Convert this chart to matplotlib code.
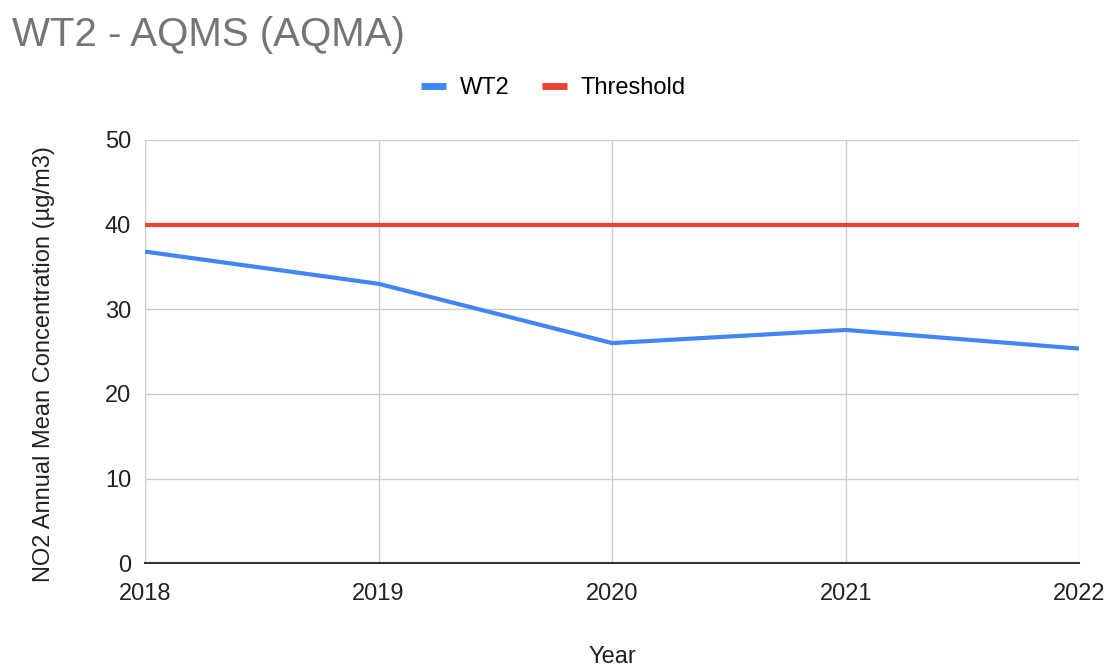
import matplotlib
matplotlib.use('Agg')
import matplotlib.pyplot as plt

years = [2018, 2019, 2020, 2021, 2022]
wt2 = [36.8, 33.0, 26.0, 27.55, 25.35]
threshold = [40, 40, 40, 40, 40]
yticks = [0, 10, 20, 30, 40, 50]

plt.rcParams['font.family'] = ['Liberation Sans', 'DejaVu Sans']

fig = plt.figure(figsize=(11.16, 6.69), dpi=100)
ax = fig.add_axes([0.130, 0.158, 0.837, 0.633])

ax.plot(years, wt2, color='#4285F4', lw=3, label='WT2', solid_capstyle='butt')
ax.plot(years, threshold, color='#EA4335', lw=3, label='Threshold', solid_capstyle='butt')

ax.set_xlim(2018, 2022)
ax.set_ylim(0, 50)
ax.set_xticks(years)
ax.set_xticklabels([str(y) for y in years])
ax.set_yticks(yticks)
ax.grid(True, color='#cccccc', lw=1)
ax.set_axisbelow(True)
for s in ['top', 'right', 'left']:
    ax.spines[s].set_visible(False)
ax.spines['bottom'].set_color('#333333')
ax.spines['bottom'].set_linewidth(1.5)
ax.tick_params(length=0, labelsize=17, colors='#222222')
ax.tick_params(axis='x', pad=14)
ax.tick_params(axis='y', pad=10)

ax.set_xlabel('Year', fontsize=17, color='#222222', labelpad=30)
ax.set_ylabel('NO2 Annual Mean Concentration (µg/m3)', fontsize=17, color='#222222')
ax.yaxis.set_label_coords(-0.096, 0.47)

fig.text(0.011, 0.947, 'WT2 - AQMS (AQMA)', fontsize=29, color='#757575', va='center', ha='left')

leg = fig.legend(loc='center', bbox_to_anchor=(0.496, 0.868), ncol=2, frameon=False,
                 fontsize=17, handlelength=1.06, handletextpad=0.6, columnspacing=1.35)
for h in leg.get_lines():
    h.set_linewidth(5)

fig.savefig('out.png', dpi=100)
